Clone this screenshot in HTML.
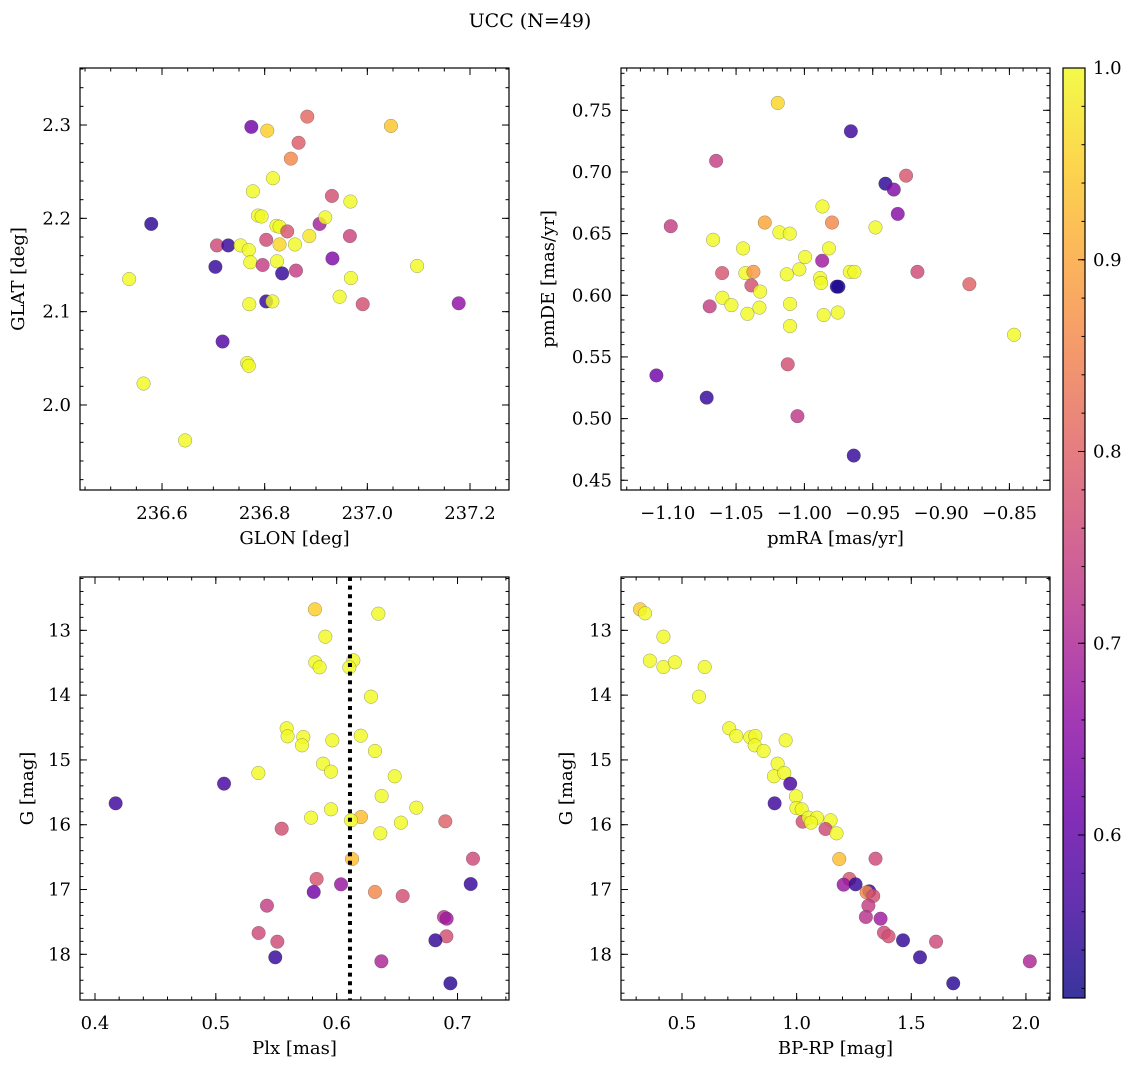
<!DOCTYPE html>
<html><head><meta charset="utf-8">
<style>
html,body{margin:0;padding:0;background:#fff;}
svg{display:block;font-family:"DejaVu Serif","Liberation Serif",serif;}
</style></head>
<body>
<svg id="fig" width="1136" height="1067" viewBox="0 0 1136 1067" xmlns="http://www.w3.org/2000/svg">
<defs>
<linearGradient id="cbgrad" x1="0" y1="1" x2="0" y2="0">
<stop offset="0" stop-color="#0d0887"/><stop offset="0.1" stop-color="#41049d"/><stop offset="0.2" stop-color="#6a00a8"/><stop offset="0.3" stop-color="#8f0da4"/><stop offset="0.4" stop-color="#b12a90"/><stop offset="0.5" stop-color="#cc4778"/><stop offset="0.6" stop-color="#e16462"/><stop offset="0.7" stop-color="#f2844b"/><stop offset="0.8" stop-color="#fca636"/><stop offset="0.9" stop-color="#fcce25"/><stop offset="1" stop-color="#f0f921"/>
</linearGradient>
</defs>
<text x="530" y="27" font-size="19" text-anchor="middle">UCC (N=49)</text>
</svg>
<script>
// ---- Panel 1: GLON / GLAT
const p1Glon = [236.536,236.564,236.579,236.645,236.704,236.707,236.718,236.729,236.753,236.769,236.766,236.769,236.772,236.770,236.774,236.777,236.787,236.794,236.796,236.803,236.803,236.805,236.815,236.816,236.823,236.829,236.824,236.829,236.834,236.844,236.851,236.859,236.861,236.866,236.883,236.887,236.907,236.918,236.932,236.931,236.946,236.967,236.966,236.968,236.991,237.046,237.097,237.178];
const p1Glat = [2.135,2.023,2.194,1.962,2.148,2.171,2.068,2.171,2.171,2.166,2.045,2.042,2.153,2.108,2.298,2.229,2.203,2.202,2.150,2.111,2.177,2.294,2.111,2.243,2.192,2.191,2.154,2.172,2.141,2.186,2.264,2.172,2.144,2.281,2.309,2.181,2.194,2.201,2.157,2.224,2.116,2.218,2.181,2.136,2.108,2.299,2.149,2.109];
const p1Prob = [1,1,0.54,1,0.55,0.76,0.58,0.55,1,1,1,1,1,1,0.62,1,1,1,0.74,0.55,0.76,0.95,1,1,1,1,1,0.96,0.55,0.78,0.86,1,0.74,0.79,0.81,0.98,0.69,1,0.64,0.77,1,1,0.75,1,0.77,0.94,1,0.66];
// ---- Panel 2: pmRA / pmDE
const p2PmRA = [-1.0195,-0.966,-1.0646,-0.9256,-0.9407,-0.9346,-0.9868,-0.9317,-1.0978,-1.029,-0.9798,-0.948,-1.0183,-1.0107,-1.0668,-1.0449,-0.982,-0.9995,-0.987,-1.0037,-1.0602,-1.0432,-1.0373,-1.0129,-0.9885,-0.9878,-0.9668,-0.9634,-0.9751,-0.9763,-0.9173,-1.0388,-1.0324,-0.8793,-1.06,-1.0534,-1.0693,-1.0329,-1.0417,-1.0105,-0.9859,-0.9756,-1.0105,-0.8466,-1.0122,-1.1083,-1.0715,-1.0051,-0.9639];
const p2PmDE = [0.756,0.733,0.709,0.697,0.6905,0.6857,0.672,0.666,0.656,0.659,0.659,0.655,0.651,0.650,0.645,0.638,0.638,0.631,0.628,0.621,0.618,0.618,0.619,0.617,0.614,0.610,0.619,0.619,0.607,0.607,0.619,0.608,0.603,0.609,0.598,0.592,0.591,0.590,0.585,0.593,0.584,0.586,0.575,0.568,0.544,0.535,0.517,0.502,0.470];
const p2Prob = [0.96,0.56,0.74,0.78,0.54,0.64,1,0.65,0.74,0.9,0.86,1,1,1,1,1,1,1,0.68,1,0.78,1,0.88,1,1,1,1,1,0.52,0.53,0.76,0.77,1,0.8,1,1,0.74,1,1,1,1,1,1,1,0.77,0.62,0.55,0.73,0.55];
// ---- Panel 3: Plx / G
const p3Plx = [0.582,0.6345,0.5906,0.5823,0.5859,0.6138,0.6105,0.6284,0.5586,0.5594,0.5724,0.5713,0.5964,0.6199,0.6317,0.5887,0.5953,0.5352,0.5068,0.648,0.6372,0.4171,0.6659,0.5953,0.5788,0.6201,0.6119,0.6532,0.6361,0.5545,0.6899,0.6127,0.7128,0.5834,0.6036,0.581,0.6317,0.6546,0.7109,0.5423,0.6888,0.691,0.5354,0.6908,0.6817,0.5509,0.5492,0.637,0.6941];
const p3G = [12.676,12.743,13.098,13.494,13.571,13.463,13.571,14.024,14.512,14.636,14.646,14.775,14.698,14.626,14.862,15.058,15.181,15.202,15.366,15.253,15.557,15.670,15.737,15.762,15.891,15.881,15.932,15.968,16.133,16.061,15.948,16.529,16.524,16.837,16.920,17.038,17.038,17.100,16.915,17.249,17.424,17.450,17.671,17.722,17.784,17.805,18.046,18.108,18.448];
const p3Prob = [0.95,1,1,1,1,1,1,1,1,1,1,1,1,1,1,1,1,1,0.57,1,1,0.56,1,1,1,0.93,1,1,1,0.77,0.8,0.93,0.76,0.78,0.67,0.62,0.86,0.77,0.55,0.74,0.72,0.68,0.76,0.77,0.55,0.76,0.55,0.7,0.54];
const plxMean = 0.611;
// ---- Panel 4: BP-RP / G
const p4BpRp = [0.317,0.339,0.419,0.360,0.419,0.469,0.599,0.574,0.706,0.737,0.798,0.820,0.817,0.856,0.952,0.917,0.901,0.946,0.972,0.997,0.904,0.999,1.022,1.026,1.052,1.089,1.063,1.148,1.126,1.174,1.186,1.344,1.230,1.205,1.257,1.317,1.305,1.334,1.313,1.302,1.366,1.381,1.401,1.464,1.608,1.538,2.017,1.683];
const p4G = [12.676,12.738,13.098,13.468,13.566,13.494,13.566,14.024,14.512,14.631,14.651,14.631,14.775,14.862,14.698,15.058,15.253,15.202,15.366,15.562,15.670,15.742,15.762,15.953,15.891,15.891,15.968,15.932,16.066,16.133,16.529,16.524,16.837,16.925,16.920,17.028,17.043,17.100,17.249,17.424,17.450,17.666,17.722,17.784,17.805,18.046,18.108,18.448];
const p4Prob = [0.95,1,1,1,1,1,1,1,1,1,1,1,1,1,1,1,1,1,0.57,1,0.56,1,1,0.77,1,1,1,1,0.76,1,0.93,0.76,0.78,0.67,0.55,0.55,0.86,0.77,0.74,0.72,0.68,0.76,0.77,0.55,0.76,0.55,0.7,0.54];
// ---- ticks
const p1XTicks = [236.6,236.8,237.0,237.2];
const p1XLabels = ["236.6","236.8","237.0","237.2"];
const p1YTicks = [2.0,2.1,2.2,2.3];
const p1YLabels = ["2.0","2.1","2.2","2.3"];
const p2XTicks = [-1.10,-1.05,-1.00,-0.95,-0.90,-0.85];
const p2XLabels = ["\u22121.10","\u22121.05","\u22121.00","\u22120.95","\u22120.90","\u22120.85"];
const p2YTicks = [0.45,0.50,0.55,0.60,0.65,0.70,0.75];
const p2YLabels = ["0.45","0.50","0.55","0.60","0.65","0.70","0.75"];
const p3XTicks = [0.4,0.5,0.6,0.7];
const p3XLabels = ["0.4","0.5","0.6","0.7"];
const gTicks = [13,14,15,16,17,18];
const gLabels = ["13","14","15","16","17","18"];
const p4XTicks = [0.5,1.0,1.5,2.0];
const p4XLabels = ["0.5","1.0","1.5","2.0"];
const cbTicks = [0.6,0.7,0.8,0.9,1.0];
const cbLabels = ["0.6","0.7","0.8","0.9","1.0"];
const cMin = 0.515, cMax = 1.0;

const NS = "http://www.w3.org/2000/svg";
const svg = document.getElementById('fig');
function mk(tag, attrs, parent){
  const e = document.createElementNS(NS, tag);
  for (const k in attrs) e.setAttribute(k, attrs[k]);
  (parent||svg).appendChild(e);
  return e;
}
const stops = [[13,8,135],[65,4,157],[106,0,168],[143,13,164],[177,42,144],[204,71,120],[225,100,98],[242,132,75],[252,166,54],[252,206,37],[240,249,33]];
function plasma(v){
  let t = (v-cMin)/(cMax-cMin); t=Math.max(0,Math.min(1,t))*10;
  const i=Math.min(9,Math.floor(t)), f=t-i, a=stops[i], b=stops[i+1];
  return 'rgb('+a.map((x,k)=>Math.round(x+(b[k]-x)*f)).join(',')+')';
}
function scale(d0,d1,r0,r1){ return v => r0+(v-d0)/(d1-d0)*(r1-r0); }
function range(a,b,s){ const out=[]; for(let v=a; v<=b+1e-9; v+=s) out.push(Math.round(v*1e6)/1e6); return out; }
const TFS = 18, AFS = 18;

function panel(cfg){
  const {name,x0,x1,y0,y1,xd,yd,xt,xl,yt,yl,xminor,yminor,xlabel,ylabel,xs,ys,cs,ylabX} = cfg;
  const g = mk('g',{});
  
  
  const sx = scale(xd[0],xd[1],x0,x1), sy = scale(yd[0],yd[1],y1,y0);
  const pts = mk('g',{},g);
  
  
  for(let i=0;i<xs.length;i++){
    const c = mk('circle',{cx:sx(xs[i]),cy:sy(ys[i]),r:6.8,fill:plasma(cs[i]),'fill-opacity':0.82,stroke:'rgba(60,60,60,0.5)','stroke-width':0.5},pts);
    
    
  }
  if (cfg.vline!==undefined){
    const l = mk('line',{x1:sx(cfg.vline),x2:sx(cfg.vline),y1:y0,y2:y1,stroke:'#000','stroke-width':4,'stroke-dasharray':'4 4.6'},g);
    
    
  }
  const fr = mk('rect',{x:x0,y:y0,width:x1-x0,height:y1-y0,fill:'none',stroke:'#000','stroke-width':1.2},g);
  
  
  const tk = mk('g',{stroke:'#000','stroke-width':1},g);
  
  
  range(xminor[0],xminor[1],xminor[2]).forEach(v=>{const x=sx(v); if(x<x0||x>x1)return;
    mk('line',{x1:x,x2:x,y1:y1,y2:y1-3.5},tk); mk('line',{x1:x,x2:x,y1:y0,y2:y0+3.5},tk);});
  range(yminor[0],yminor[1],yminor[2]).forEach(v=>{const y=sy(v); if(y<y0||y>y1)return;
    mk('line',{x1:x0,x2:x0+3.5,y1:y,y2:y},tk); mk('line',{x1:x1,x2:x1-3.5,y1:y,y2:y},tk);});
  xt.forEach((v,i)=>{const x=sx(v);
    mk('line',{x1:x,x2:x,y1:y1,y2:y1-7},tk); mk('line',{x1:x,x2:x,y1:y0,y2:y0+7},tk);
    const t=mk('text',{x:x,y:y1+29,'font-size':TFS,'text-anchor':'middle'},g); t.textContent=xl[i];
    
    });
  yt.forEach((v,i)=>{const y=sy(v);
    mk('line',{x1:x0,x2:x0+7,y1:y,y2:y},tk); mk('line',{x1:x1,x2:x1-7,y1:y,y2:y},tk);
    const t=mk('text',{x:x0-9,y:y+6,'font-size':TFS,'text-anchor':'end'},g); t.textContent=yl[i];
    
    });
  const xa=mk('text',{x:(x0+x1)/2,y:y1+54,'font-size':AFS,'text-anchor':'middle'},g); xa.textContent=xlabel;
  
  
  const ya=mk('text',{x:ylabX,y:(y0+y1)/2,'font-size':AFS,'text-anchor':'middle',transform:'rotate(-90 '+ylabX+' '+((y0+y1)/2)+')'},g); ya.textContent=ylabel;
  
  
}

panel({name:'glon-glat-panel',x0:80,x1:509,y0:68,y1:490,xd:[236.4402,237.276],yd:[1.9089,2.3611],
  xt:p1XTicks,xl:p1XLabels,yt:p1YTicks,yl:p1YLabels,xminor:[236.45,237.3,0.05],yminor:[1.92,2.36,0.02],
  xlabel:'GLON [deg]',ylabel:'GLAT [deg]',xs:p1Glon,ys:p1Glat,cs:p1Prob,ylabX:24});
panel({name:'pm-panel',x0:621,x1:1050,y0:68,y1:490,xd:[-1.1342,-0.8203],yd:[0.4421,0.7843],
  xt:p2XTicks,xl:p2XLabels,yt:p2YTicks,yl:p2YLabels,xminor:[-1.13,-0.82,0.01],yminor:[0.45,0.78,0.01],
  xlabel:'pmRA [mas/yr]',ylabel:'pmDE [mas/yr]',xs:p2PmRA,ys:p2PmDE,cs:p2Prob,ylabX:554});
panel({name:'plx-g-panel',x0:80,x1:509,y0:577,y1:1000,xd:[0.3876,0.7426],yd:[18.705,12.177],
  xt:p3XTicks,xl:p3XLabels,yt:gTicks,yl:gLabels,xminor:[0.38,0.74,0.02],yminor:[12.2,18.6,0.2],
  xlabel:'Plx [mas]',ylabel:'G [mag]',xs:p3Plx,ys:p3G,cs:p3Prob,ylabX:33,vline:plxMean});
panel({name:'cmd-panel',x0:621,x1:1050,y0:577,y1:1000,xd:[0.234,2.105],yd:[18.705,12.177],
  xt:p4XTicks,xl:p4XLabels,yt:gTicks,yl:gLabels,xminor:[0.3,2.1,0.1],yminor:[12.2,18.6,0.2],
  xlabel:'BP-RP [mag]',ylabel:'G [mag]',xs:p4BpRp,ys:p4G,cs:p4Prob,ylabX:572});

// colorbar
const cb = mk('g',{});


const cbx0=1063, cbx1=1085, cby0=68, cby1=998;
mk('rect',{x:cbx0,y:cby0,width:cbx1-cbx0,height:cby1-cby0,fill:'url(#cbgrad)','fill-opacity':0.82},cb);
mk('rect',{x:cbx0,y:cby0,width:cbx1-cbx0,height:cby1-cby0,fill:'none',stroke:'#000','stroke-width':1.2},cb);
const cy = scale(cMin,cMax,cby1,cby0);
range(0.52,1.0,0.02).forEach(v=>{const y=cy(v); mk('line',{x1:cbx1,x2:cbx1-3.5,y1:y,y2:y,stroke:'#000'},cb);});
cbTicks.forEach((v,i)=>{const y=cy(v);
  mk('line',{x1:cbx1,x2:cbx1-7,y1:y,y2:y,stroke:'#000'},cb);
  const t=mk('text',{x:cbx1+8,y:y+6,'font-size':TFS},cb); t.textContent=cbLabels[i];
  
  });
</script>
</body></html>
